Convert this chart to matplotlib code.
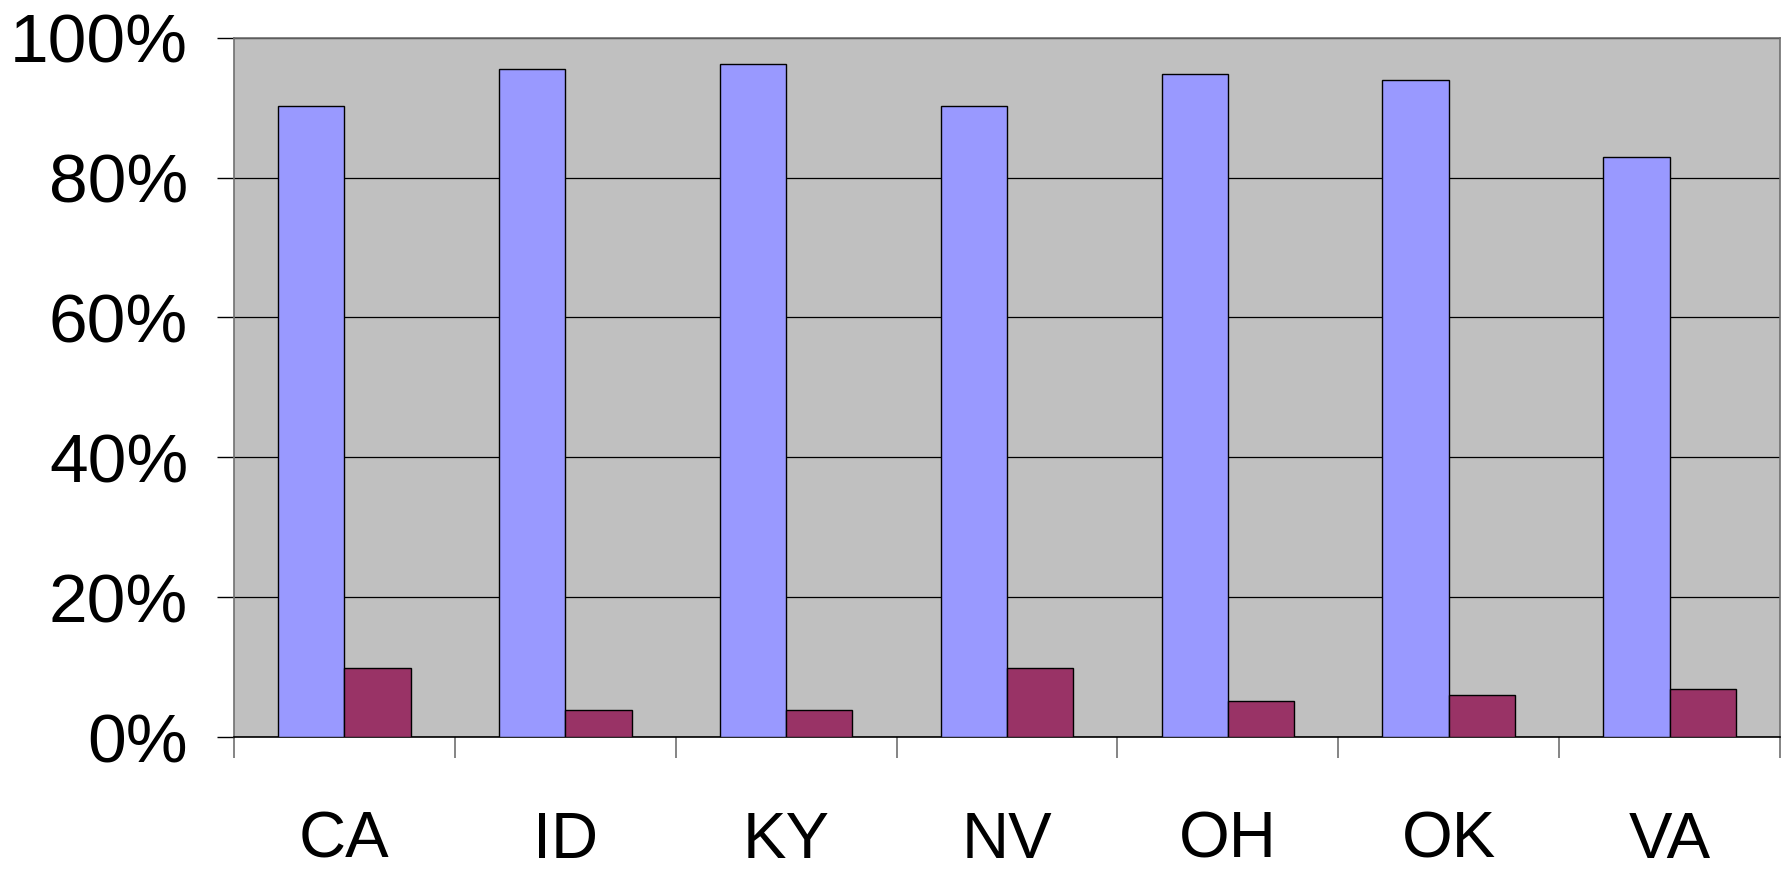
import numpy as np
import matplotlib.pyplot as plt
from matplotlib.ticker import PercentFormatter

plt.rcParams['font.family'] = ['Liberation Sans', 'DejaVu Sans']

states = ['CA', 'ID', 'KY', 'NV', 'OH', 'OK', 'VA']
blue_vals = [90.2, 95.5, 96.2, 90.2, 94.8, 94.0, 82.9]
red_vals = [9.8, 3.8, 3.8, 9.8, 5.2, 6.0, 6.9]

fig = plt.figure(figsize=(17.89, 8.72), dpi=100)
ax = fig.add_axes([0.1308, 0.1548, 0.995 - 0.1308, 0.9568 - 0.1548])
ax.set_facecolor('#C0C0C0')

x = np.arange(len(states))
w = 0.3
ax.bar(x - w / 2, blue_vals, w, color='#9999FF', edgecolor='black', linewidth=1.0, zorder=3)
ax.bar(x + w / 2, red_vals, w, color='#993366', edgecolor='black', linewidth=1.0, zorder=3)

ax.set_xlim(-0.5, len(states) - 0.5)
ax.set_ylim(0, 100)
ax.set_yticks(np.arange(0, 101, 20))
ax.yaxis.set_major_formatter(PercentFormatter(decimals=0))
ax.grid(axis='y', color='black', linewidth=0.9, zorder=1)

# category boundaries get the tick marks, labels sit at centres
ax.set_xticks(np.arange(-0.5, len(states), 1))
ax.set_xticklabels([])
ax.tick_params(axis='x', which='major', length=15, width=1.2, color='#707070', direction='out')
ax.set_xticks(x, minor=True)
ax.set_xticklabels(states, minor=True)
ax.tick_params(axis='x', which='minor', length=0, pad=53, labelsize=47)

ax.tick_params(axis='y', length=12, width=1.0, color='black', pad=21, labelsize=50)

for side in ['left', 'top', 'right']:
    ax.spines[side].set_color('#707070')
    ax.spines[side].set_linewidth(1.2)
ax.spines['bottom'].set_color('black')
ax.spines['bottom'].set_linewidth(1.2)

fig.savefig('out.png', dpi=100)
